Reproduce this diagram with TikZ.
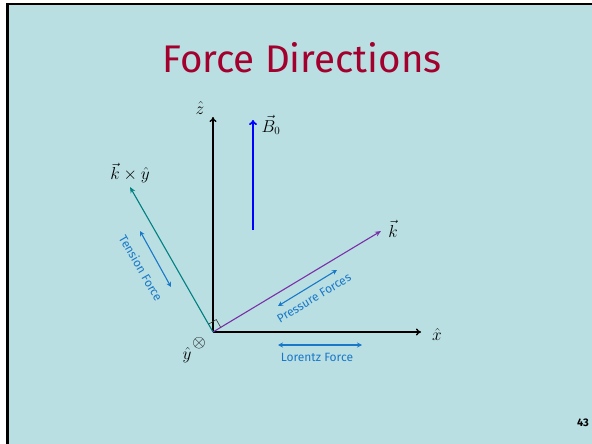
\documentclass[tikz,border=0pt]{standalone}
\usepackage{fontspec}
\setmainfont{Fira Sans}
\usepackage{amsmath}
\usetikzlibrary{arrows.meta,calc}
\definecolor{bg}{HTML}{B9DFE3}
\definecolor{titlered}{HTML}{A3002E}
\definecolor{lblue}{HTML}{1A78C8}
\definecolor{tealc}{HTML}{008080}
\definecolor{purp}{HTML}{7B2FA8}
\tikzset{
  axis/.style={line width=1.4pt,-{To[length=5pt,width=7pt]}},
  forcearr/.style={lblue,line width=1.1pt,{Stealth[length=5pt,width=5pt]}-{Stealth[length=5pt,width=5pt]}},
  forcelbl/.style={lblue,font=\fontsize{12}{14}\selectfont,inner sep=0pt},
  mathlbl/.style={font=\fontsize{16}{18}\selectfont,inner sep=0pt}
}
\begin{document}
\begin{tikzpicture}[x=1pt,y=-1pt]
\useasboundingbox (0,0) rectangle (592,444);
\fill[white] (0,0) rectangle (592,444);
\fill[bg] (6,3) rectangle (592,444);
\fill[black] (6,3) rectangle (9,444);
\fill[black] (6,3) rectangle (592,5);
\node[titlered,font=\fontsize{38.5}{42}\selectfont,inner sep=0pt] (title) at (302,58) {Force Directions};
\node[font=\bfseries\fontsize{11}{12}\selectfont,inner sep=0pt] (pg) at (583,423) {43};
% points
\coordinate (O) at (213,332);
\coordinate (ztip) at (213,117);
\coordinate (xtip) at (421,332);
\coordinate (ktip) at (381,231);
\coordinate (kytip) at (130,187);
\coordinate (Bbot) at (253,230);
\coordinate (Btip) at (253,120);
% axes
\draw[axis] (O) -- (ztip);
\draw[axis] (O) -- (xtip);
\draw[blue,line width=1.8pt,-{To[length=5pt,width=8pt]}] (Bbot) -- (Btip);
\draw[purp,line width=1.1pt,-{Stealth[length=6pt,width=5pt]}] (O) -- (ktip);
\draw[tealc,line width=1.1pt,-{Stealth[length=6pt,width=5pt]}] (O) -- (kytip);
% right angle mark
\coordinate (ra1) at ($(O)!9pt!(ktip)$);
\coordinate (ra3) at ($(O)!9pt!(kytip)$);
\coordinate (ra2) at ($(ra1)+(ra3)-(O)$);
\draw[black!80,line width=0.6pt] (ra1) -- (ra2) -- (ra3);
% labels
\node[mathlbl] (zl) at (200,108) {$\hat z$};
\node[mathlbl] (xl) at (437,334) {$\hat x$};
\node[mathlbl] (kl) at (393,229) {$\vec k$};
\node[mathlbl] (Bl) at (271,125) {$\vec B_0$};
\node[mathlbl] (kyl) at (130,173) {$\vec k\times\hat y$};
\node[font=\fontsize{18}{18}\selectfont,inner sep=0pt] (otimes) at (199,343) {$\otimes$};
\node[mathlbl] (yl) at (187,355) {$\hat y$};
% force arrows
\coordinate (t1) at (140,231);
\coordinate (t2) at (171,287);
\draw[forcearr] (t1) -- (t2);
\node[forcelbl,rotate=-60] (tl) at (141,268) {Tension Force};
\coordinate (p1) at (278,306);
\coordinate (p2) at (337,270);
\draw[forcearr] (p1) -- (p2);
\node[forcelbl,rotate=31] (pl) at (314,298) {Pressure Forces};
\coordinate (l1) at (278,345);
\coordinate (l2) at (362,345);
\draw[forcearr] (l1) -- (l2);
\node[forcelbl] (ll) at (317,357) {Lorentz Force};
\end{tikzpicture}
\end{document}
